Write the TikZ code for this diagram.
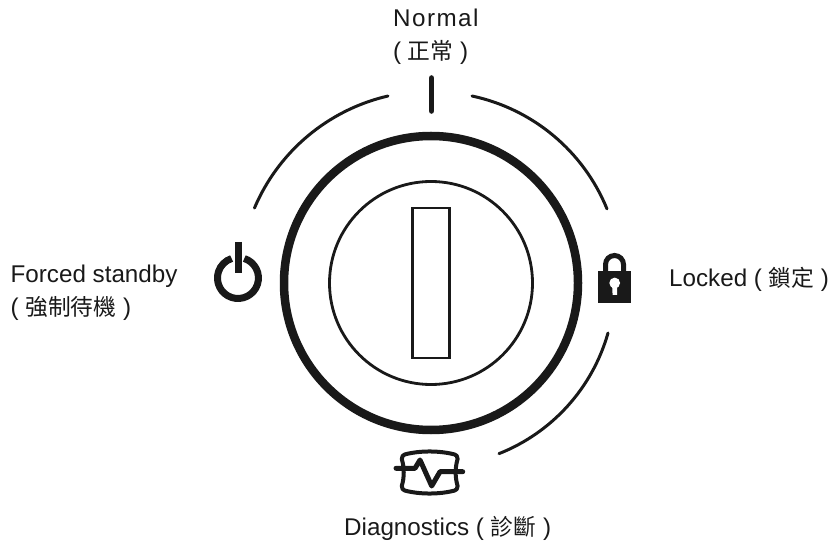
\documentclass[tikz,border=0pt]{standalone}
\usepackage{fontspec}
\setmainfont{Liberation Sans}
\newfontfamily\cjk{Noto Sans CJK TC}[Scale=0.94]
\newfontfamily\spaced{Liberation Sans}[LetterSpace=6]
\tikzset{
  lbl/.style={inner sep=0pt,font=\fontsize{24.2}{28}\selectfont,text=black!90,anchor=base west},
  ring/.style={draw=black!90,line cap=round,line width=3pt},
  icon/.style={draw=black!90,line join=round}
}
\begin{document}
\begin{tikzpicture}[x=1pt,y=1pt]
\useasboundingbox (0,0) rectangle (838,544);
\coordinate (c) at (431,261);
% dial
\node[circle,draw=black!90,line width=8.5pt,minimum size=294pt,inner sep=0pt] (outer) at (c) {};
\node[circle,draw=black!90,line width=2.8pt,minimum size=203pt,inner sep=0pt] (inner) at (c) {};
\node[rectangle,draw=black!90,line width=2.6pt,minimum width=37pt,minimum height=150pt,inner sep=0pt] (slot) at (c) {};
% guide arcs
\coordinate (a1) at (388,448);
\coordinate (a2) at (472,448);
\coordinate (a3) at (608,211);
\draw[ring] (a1) arc[start angle=103,end angle=157,radius=192];
\draw[ring] (a2) arc[start angle=78,end angle=22.2,radius=188];
\draw[ring] (a3) arc[start angle=-15.8,end angle=-68.4,radius=183.5];
% normal tick
\coordinate (t1) at (431.5,466);
\coordinate (t2) at (431.5,433);
\draw[draw=black!90,line cap=round,line width=5.6pt] (t1) -- (t2);
% power icon
\draw[draw=black!90,line width=7pt] (244.3,285.5) arc[start angle=72,end angle=-252,radius=20.5];
\draw[draw=black!90,line width=7pt] (238.5,302) -- (238.5,271);
% lock icon
\fill[black!90] (598,241) rectangle (631,273);
\draw[draw=black!90,line width=5pt] (605.5,272) -- (605.5,279.5) arc[start angle=180,end angle=0,radius=9] -- (623.5,272);
\fill[white] (614.7,261) circle[radius=5.4];
\fill[white] (612,261) -- (617.4,261) -- (617,249) -- (612.6,249) -- cycle;
% diagnostics icon
\draw[icon,line width=4pt] (401.8,85) .. controls (401.8,88) and (403,89) .. (405,89.6)
  .. controls (420,93.5) and (439,93.5) .. (454.4,89.6)
  .. controls (456.4,89) and (457.6,88) .. (457.6,85)
  .. controls (455,76) and (455,67) .. (457.6,58)
  .. controls (457.6,55) and (456.4,54) .. (454.4,53.4)
  .. controls (439,49.5) and (420,49.5) .. (405,53.4)
  .. controls (403,54) and (401.8,55) .. (401.8,58)
  .. controls (404.4,67) and (404.4,76) .. (401.8,85) -- cycle;
\draw[icon,line cap=round,line width=5pt] (396,75.7) -- (415,75.7) -- (420,84) -- (431.7,58) -- (440,72.3) -- (462.7,72.3);
% labels
\node[lbl] (n1) at (393,517) {\spaced Normal};
\node[lbl] (n2) at (393,484) {( {\cjk 正常} )};
\node[lbl] (l1) at (10.5,261.5) {Forced standby};
\node[lbl] (l2) at (10.5,228.5) {( {\cjk 強制待機} )};
\node[lbl] (r1) at (669,257.3) {Locked ( {\cjk 鎖定} )};
\node[lbl] (d1) at (344,9) {Diagnostics ( {\cjk 診斷} )};
\end{tikzpicture}
\end{document}
